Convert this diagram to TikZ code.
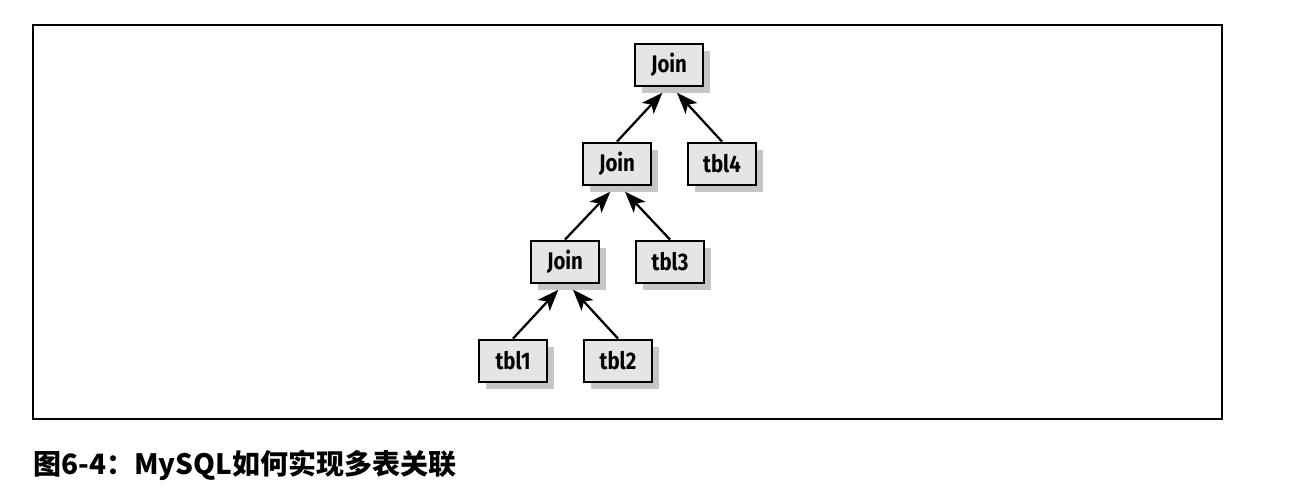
\documentclass[tikz,border=0pt]{standalone}
\usepackage{fontspec}
\usetikzlibrary{arrows.meta,calc}
\newfontfamily\boxfont[FakeStretch=0.85]{Fira Sans}
\newfontfamily\capfont{Noto Sans CJK SC}
\tikzset{
  tblbox/.style={draw=black, line width=1.6pt, fill=gray!20, minimum width=51pt, minimum height=32pt,
    inner sep=0pt, font=\boxfont\bfseries\fontsize{18pt}{20pt}\selectfont},
  shadowbox/.style={fill=gray!45, draw=none, minimum width=51pt, minimum height=32pt, inner sep=0pt},
  link/.style={line width=1.7pt, -{Stealth[length=16pt,width=12pt,inset=4pt]}},
  frame/.style={draw=black, line width=1.1pt}
}
\begin{document}
\begin{tikzpicture}[x=0.75pt,y=-0.75pt]
\useasboundingbox (0,0) rectangle (1294,498);
\draw[frame] (33,25) rectangle (1222,419);
\node[shadowbox] at (676,72) {};
\node[tblbox] (j1) at (669,65) {Join};
\node[shadowbox] at (624,171) {};
\node[tblbox] (j2) at (617,164) {Join};
\node[shadowbox] at (729,171) {};
\node[tblbox] (t4) at (722,164) {tbl4};
\node[shadowbox] at (572,269) {};
\node[tblbox] (j3) at (565,262) {Join};
\node[shadowbox] at (677,269) {};
\node[tblbox] (t3) at (670,262) {tbl3};
\node[shadowbox] at (520,368) {};
\node[tblbox] (t1) at (513,361) {tbl1};
\node[shadowbox] at (625,368) {};
\node[tblbox] (t2) at (618,361) {tbl2};
\draw[link] (j2.north) -- ([xshift=-5pt,yshift=-4pt]j1.south);
\draw[link] (t4.north) -- ([xshift=6pt,yshift=-4pt]j1.south);
\draw[link] (j3.north) -- ([xshift=-5pt,yshift=-4pt]j2.south);
\draw[link] (t3.north) -- ([xshift=6pt,yshift=-4pt]j2.south);
\draw[link] (t1.north) -- ([xshift=-5pt,yshift=-4pt]j3.south);
\draw[link] (t2.north) -- ([xshift=6pt,yshift=-4pt]j3.south);
\node[anchor=west, inner sep=0pt, font=\capfont\bfseries\fontsize{21pt}{24pt}\selectfont] (cap) at (33,465) {图6-4：MySQL如何实现多表关联};
\end{tikzpicture}
\end{document}
